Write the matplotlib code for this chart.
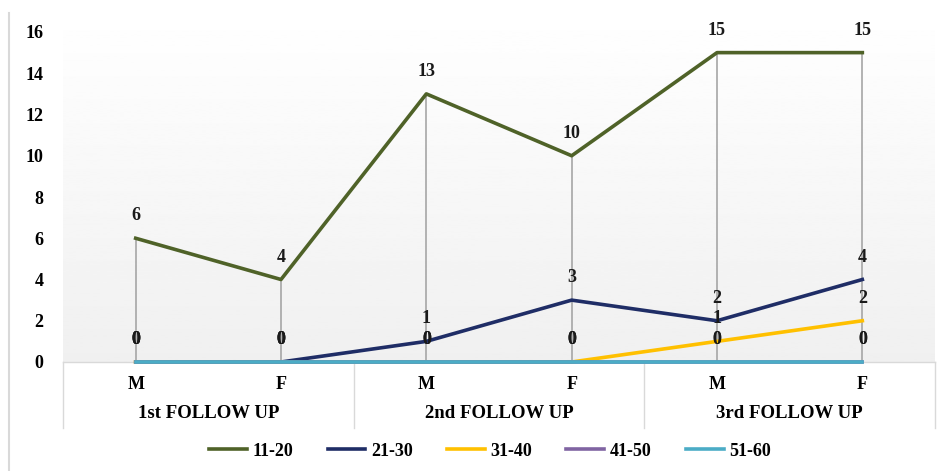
import numpy as np
import matplotlib
matplotlib.use("Agg")
from matplotlib import pyplot as plt
from matplotlib.lines import Line2D

# Follow-up counts by age group, split by sex within each follow-up.
sexes = ["M", "F", "M", "F", "M", "F"]
follow_ups = ["1st FOLLOW UP", "2nd FOLLOW UP", "3rd FOLLOW UP"]
age_groups = ["11-20", "21-30", "31-40", "41-50", "51-60"]
counts_11_20 = [6, 4, 13, 10, 15, 15]
counts_21_30 = [0, 0, 1, 3, 2, 4]
counts_31_40 = [0, 0, 0, 0, 1, 2]
counts_41_50 = [0, 0, 0, 0, 0, 0]
counts_51_60 = [0, 0, 0, 0, 0, 0]
colors = ["#4f6228", "#1f2d66", "#ffc000", "#8064a2", "#4bacc6"]

series = [counts_11_20, counts_21_30, counts_31_40, counts_41_50, counts_51_60]

plt.rcParams["font.family"] = ["Liberation Serif", "DejaVu Serif"]
plt.rcParams["font.weight"] = "bold"
fs = 13

fig = plt.figure(figsize=(9.46, 4.71), dpi=100)
ax = fig.add_axes([63 / 946, 1 - 362 / 471, 872 / 946, 330 / 471])

x = np.arange(len(sexes))

# light vertical gradient behind the plot
grad = np.linspace(1.0, 0.94, 256).reshape(-1, 1)
ax.imshow(grad, cmap="gray", vmin=0, vmax=1, aspect="auto",
          extent=(-0.5, len(sexes) - 0.5, 0, 17.2), zorder=0, clip_on=False)
ax.set_xlim(-0.5, len(sexes) - 0.5)
ax.set_ylim(0, 16)

# drop lines from the highest point down to the axis
tops = np.max(np.array(series), axis=0)
ax.vlines(x, 0, tops, color="#a6a6a6", lw=1.2, zorder=1)

for vals, col in zip(series, colors):
    ax.plot(x, vals, color=col, lw=2.6, zorder=3, clip_on=False)
for vals in series:
    for xi, v in zip(x, vals):
        ax.annotate(str(v), (xi, v), xytext=(0, 10), textcoords="offset points",
                    ha="center", va="bottom", fontsize=fs, fontweight="bold",
                    color="#1a1a1a", zorder=4, annotation_clip=False)

for s in ax.spines.values():
    s.set_visible(False)

ax.set_yticks(range(0, 17, 2))
ax.tick_params(axis="y", length=0, pad=14, labelsize=fs)
ax.tick_params(axis="x", length=0, pad=10, labelsize=fs)
ax.set_xticks(x)
ax.set_xticklabels(sexes)
for lab in ax.get_yticklabels() + ax.get_xticklabels():
    lab.set_fontweight("bold")

# multi-level category axis boxes
trans = ax.get_xaxis_transform()
box_bottom = -(428 - 362) / 330
ax.plot([-0.5, len(sexes) - 0.5], [0, 0], color="#d9d9d9", lw=1,
        transform=trans, clip_on=False, zorder=2)
for bx in [-0.5, 1.5, 3.5, 5.5]:
    ax.plot([bx, bx], [0, box_bottom], color="#d9d9d9", lw=1,
            transform=trans, clip_on=False)
for i, name in enumerate(follow_ups):
    ax.text(2 * i + 0.5, -(414 - 362) / 330, name, transform=trans,
            ha="center", va="center", fontsize=13.5, fontweight="bold")

# chart border on the left
fig.add_artist(Line2D([9 / 946, 9 / 946], [0, 1 - 13 / 471],
                      color="#d9d9d9", lw=1.5))

handles = [Line2D([], [], color=c, lw=2.6) for c in colors]
fig.legend(handles, age_groups, loc="center", bbox_to_anchor=(490 / 946, 1 - 451 / 471),
           ncol=5, frameon=False, handlelength=2.1,
           handletextpad=0.3, columnspacing=1.9, prop={"weight": "bold", "size": fs})

fig.savefig("out.png", dpi=100)
